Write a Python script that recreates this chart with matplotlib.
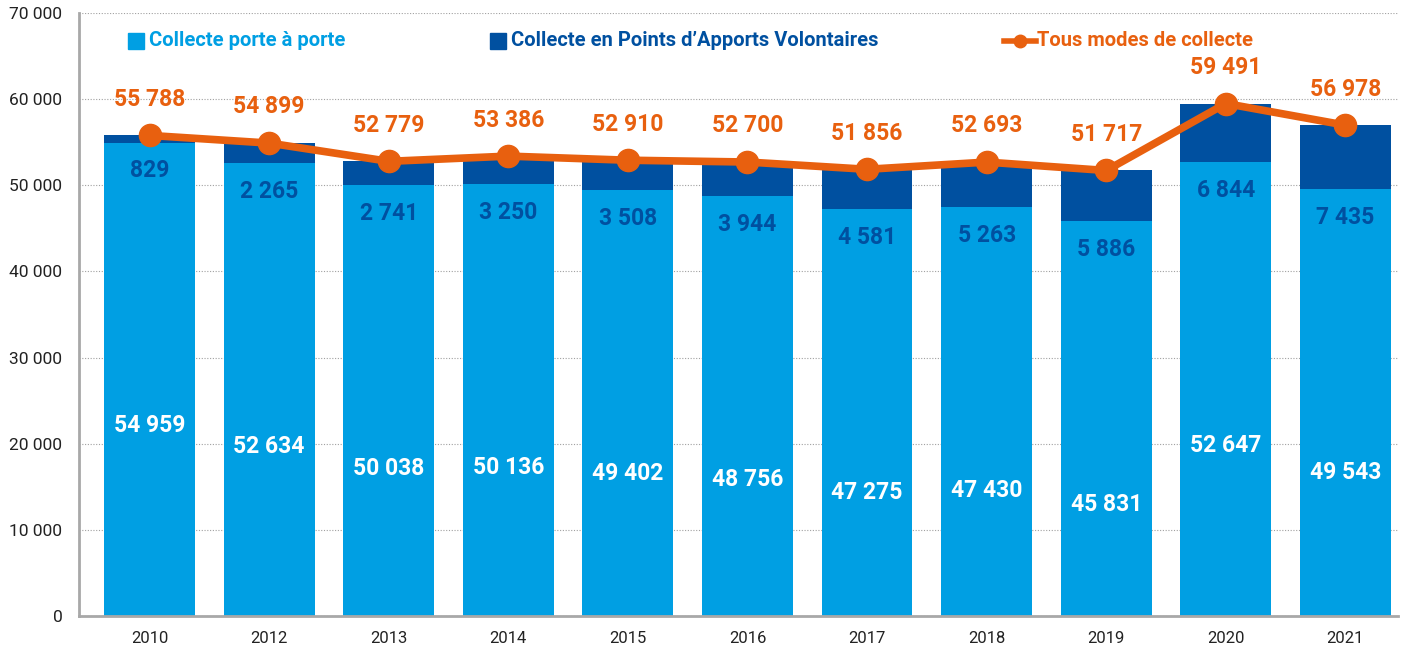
import matplotlib
matplotlib.use("Agg")
import matplotlib.pyplot as plt
from matplotlib.lines import Line2D
import numpy as np

years = ["2010", "2012", "2013", "2014", "2015", "2016", "2017", "2018", "2019", "2020", "2021"]
porte_a_porte = [54959, 52634, 50038, 50136, 49402, 48756, 47275, 47430, 45831, 52647, 49543]
pav = [829, 2265, 2741, 3250, 3508, 3944, 4581, 5263, 5886, 6844, 7435]
total = [55788, 54899, 52779, 53386, 52910, 52700, 51856, 52693, 51717, 59491, 56978]
yticks = [0, 10000, 20000, 30000, 40000, 50000, 60000, 70000]

LIGHT = "#009FE3"
DARK = "#0050A0"
ORANGE = "#E8600F"
FONT = "Roboto"

def fmt(v):
    return f"{v:,}".replace(",", " ")

plt.rcParams['font.family'] = [FONT, 'DejaVu Sans']

fig = plt.figure(figsize=(14.08, 6.5), dpi=100)
ax = fig.add_axes([0.0561, 0.0523, 0.9368, 0.9277])

x = np.arange(len(years))
w = 0.76
ax.bar(x, porte_a_porte, width=w, color=LIGHT, zorder=2)
ax.bar(x, pav, width=w, bottom=porte_a_porte, color=DARK, zorder=2)
ax.plot(x, total, color=ORANGE, lw=5.5, marker="o", ms=16, zorder=3, solid_capstyle="round")

for xi, p, d, t in zip(x, porte_a_porte, pav, total):
    ax.text(xi, p - 32900, fmt(p), ha="center", va="center", color="white",
            fontsize=16.5, fontweight="bold", zorder=4)
    ax.text(xi, p - 3300, fmt(d), ha="center", va="center", color=DARK,
            fontsize=16.5, fontweight="bold", zorder=4)
    ax.annotate(fmt(t), (xi, t), xytext=(0, 26), textcoords="offset points",
                ha="center", va="center", color=ORANGE, fontsize=16.5,
                fontweight="bold", zorder=4)

ax.set_xlim(-0.59, 10.44)
ax.set_ylim(0, 70000)
ax.set_yticks(yticks)
ax.set_yticklabels([fmt(v) for v in yticks])
ax.set_xticks(x)
ax.set_xticklabels(years)
ax.tick_params(axis="y", length=0, pad=12, labelsize=12.5, labelcolor="#222222")
ax.tick_params(axis="x", length=0, pad=11, labelsize=12, labelcolor="#222222")

ax.grid(axis="y", color="#A0A0A0", linestyle=(0, (1, 1.5)), linewidth=0.8, zorder=0)
ax.set_axisbelow(True)
for s in ["top", "right"]:
    ax.spines[s].set_visible(False)
for s in ["left", "bottom"]:
    ax.spines[s].set_color("#A8A8A8")
    ax.spines[s].set_linewidth(2)

# legend drawn manually
ly = 41
def fx(px):
    return px / 1408
def fy(py):
    return 1 - py / 650

fig.patches.append(plt.Rectangle((fx(128), fy(49)), fx(144) - fx(128), fy(33) - fy(49),
                                 transform=fig.transFigure, color=LIGHT))
fig.text(fx(149), fy(ly), "Collecte porte à porte", color=LIGHT, fontsize=14.5,
         fontweight="bold", va="center", ha="left")
fig.patches.append(plt.Rectangle((fx(490), fy(49)), fx(506) - fx(490), fy(33) - fy(49),
                                 transform=fig.transFigure, color=DARK))
fig.text(fx(511), fy(ly), "Collecte en Points d’Apports Volontaires", color=DARK,
         fontsize=14.5, fontweight="bold", va="center", ha="left")
fig.lines.append(Line2D([fx(1004), fx(1036)], [fy(ly), fy(ly)], transform=fig.transFigure,
                        color=ORANGE, lw=4, marker=None))
fig.lines.append(Line2D([fx(1020)], [fy(ly)], transform=fig.transFigure,
                        color=ORANGE, marker="o", ms=9, lw=0))
fig.text(fx(1037), fy(ly), "Tous modes de collecte", color=ORANGE, fontsize=14.5,
         fontweight="bold", va="center", ha="left")

fig.savefig("out.png", dpi=100, facecolor="white")
